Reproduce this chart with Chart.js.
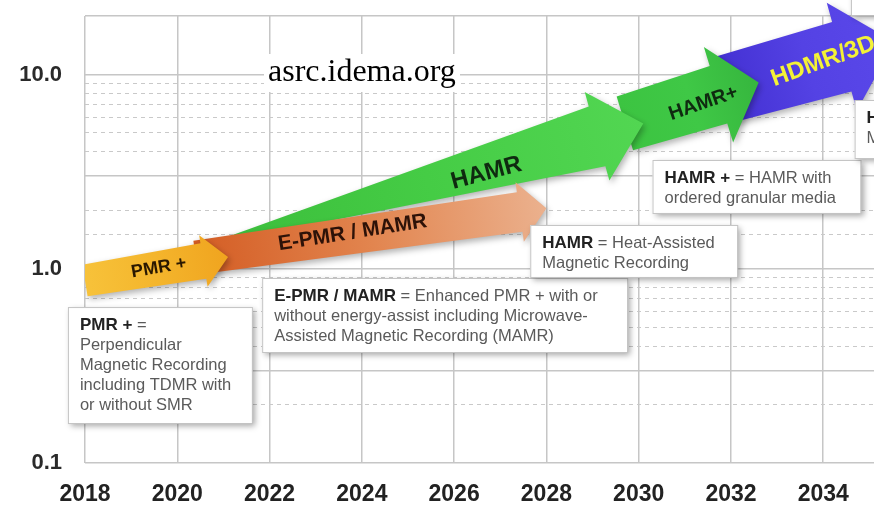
<!DOCTYPE html>
<html>
<head>
<meta charset="utf-8">
<script src="https://cdn.jsdelivr.net/npm/chart.js@4.4.1/dist/chart.umd.min.js"></script>
<style>
  html, body { margin: 0; padding: 0; background: #fff; }
</style>
</head>
<body>
<canvas id="roadmap" width="874" height="510"></canvas>
<script>
// ASRC areal density roadmap (Tb/in2), log scale
const yearTicks = [2018, 2020, 2022, 2024, 2026, 2028, 2030, 2032, 2034];
const densityTicks = [0.1, 1, 10];
const densityLabels = ['0.1', '1.0', '10.0'];

// technology arrows, back to front
const techNames = ['HDMR/3D', 'HAMR+', 'HAMR', 'E-PMR / MAMR', 'PMR +'];
const startYear = [2031.8, 2029.7, 2020.8, 2020.4, 2018.0];
const startDensity = [8.3, 5.6, 1.36, 1.14, 0.87];
const endYear = [2035.55, 2032.6, 2030.1, 2028.0, 2021.1];
const endDensity = [14.7, 9.1, 5.6, 2.05, 1.15];

// look of each arrow (half widths / head length in px)
const arrowStyles = [
  { tail: 34, body: 36, flare: 56, head: 55, colors: ['#4330d2', '#5442e4', '#5a48ea'],
    text: '#f4f236', font: 24, rot: -20, at: [2034.0, 11.7] },
  { tail: 28, body: 30, flare: 50, head: 42, colors: ['#3cc441', '#3fc846', '#36b63e'],
    text: '#0f2a10', font: 20, rot: -19, at: [2031.4, 7.1] },
  { tail: 1, body: 31, flare: 46, head: 48, colors: ['#3bbd3b', '#45cc45', '#52d652'],
    text: '#0f2a10', font: 24, rot: -15, at: [2026.7, 3.1] },
  { tail: 17, body: 20, flare: 30, head: 27, colors: ['#d45d24', '#e2854f', '#ebb18e'],
    text: '#2d1208', font: 21, rot: -9, at: [2023.8, 1.53] },
  { tail: 16, body: 18, flare: 26, head: 25, colors: ['#f7c23a', '#f4b52c', '#f0a41f'],
    text: '#2a1800', font: 18, rot: -10, at: [2019.6, 1.01] }
];

// definition boxes (top-left anchored in data units)
const notes = [
  { at: [2017.63, 0.635], w: 184, h: 116,
    lines: [['PMR +', ' ='], 'Perpendicular', 'Magnetic Recording', 'including TDMR with', 'or without SMR'] },
  { at: [2021.84, 0.896], w: 365, h: 74,
    lines: [['E-PMR / MAMR', ' = Enhanced PMR + with or'], 'without energy-assist including Microwave-', 'Assisted Magnetic Recording (MAMR)'] },
  { at: [2027.65, 1.68], w: 207, h: 52,
    lines: [['HAMR', ' = Heat-Assisted'], 'Magnetic Recording'] },
  { at: [2030.3, 3.63], w: 208, h: 53,
    lines: [['HAMR +', ' = HAMR with'], 'ordered granular media'] },
  { at: [2034.68, 7.39], w: 100, h: 58,
    lines: [['HDMR', ' = Heated-Dot'], 'Magnetic Recording'] },
  { at: [2034.6, 34.4], w: 100, h: 45, lines: [] }
];

const solidLines = [0.1, 0.3, 1, 3, 10, 20];
const isSolid = v => solidLines.some(s => Math.abs(s - v) < 1e-6);
const gridColor = v => (v > 10.001 && v < 19.999) ? 'rgba(0,0,0,0)' : (isSolid(v) ? '#c6c6c6' : '#c9c9c9');

function drawArrow(ctx, T, P, st) {
  const dx = P.x - T.x, dy = P.y - T.y;
  const len = Math.hypot(dx, dy);
  const ux = dx / len, uy = dy / len;
  const nx = -uy, ny = ux;
  const bx = P.x - ux * st.head, by = P.y - uy * st.head;
  const pts = [
    [T.x + nx * st.tail, T.y + ny * st.tail],
    [bx + nx * st.body, by + ny * st.body],
    [bx + nx * st.flare, by + ny * st.flare],
    [P.x, P.y],
    [bx - nx * st.flare, by - ny * st.flare],
    [bx - nx * st.body, by - ny * st.body],
    [T.x - nx * st.tail, T.y - ny * st.tail]
  ];
  const grad = ctx.createLinearGradient(T.x, T.y, P.x, P.y);
  st.colors.forEach((c, i) => grad.addColorStop(i / (st.colors.length - 1), c));
  ctx.save();
  ctx.shadowColor = 'rgba(0,0,0,0.3)';
  ctx.shadowBlur = 6;
  ctx.shadowOffsetX = 2;
  ctx.shadowOffsetY = 3;
  ctx.beginPath();
  pts.forEach((p, i) => i ? ctx.lineTo(p[0], p[1]) : ctx.moveTo(p[0], p[1]));
  ctx.closePath();
  ctx.fillStyle = grad;
  ctx.fill();
  ctx.restore();
}

const roadmapPlugin = {
  id: 'roadmap',
  afterDraw(chart) {
    const { ctx, chartArea, scales } = chart;
    const xs = scales.x, ys = scales.y;

    // arrows
    ctx.save();
    ctx.beginPath();
    ctx.rect(chartArea.left, 0, chart.width - chartArea.left, chart.height);
    ctx.clip();
    techNames.forEach((name, i) => {
      const pts = chart.getDatasetMeta(i).data;
      drawArrow(ctx, pts[0], pts[1], arrowStyles[i]);
    });
    techNames.forEach((name, i) => {
      const st = arrowStyles[i];
      ctx.save();
      ctx.translate(xs.getPixelForValue(st.at[0]), ys.getPixelForValue(st.at[1]));
      ctx.rotate(st.rot * Math.PI / 180);
      ctx.font = 'bold ' + st.font + "px 'Liberation Sans', Arial, sans-serif";
      ctx.fillStyle = st.text;
      ctx.textAlign = 'center';
      ctx.textBaseline = 'middle';
      ctx.fillText(name, 0, 0);
      ctx.restore();
    });
    ctx.restore();

    // definition boxes
    notes.forEach(n => {
      const x = xs.getPixelForValue(n.at[0]), y = ys.getPixelForValue(n.at[1]);
      ctx.save();
      ctx.shadowColor = 'rgba(0,0,0,0.35)';
      ctx.shadowBlur = 6;
      ctx.shadowOffsetX = 3;
      ctx.shadowOffsetY = 3;
      ctx.fillStyle = '#fff';
      ctx.fillRect(x, y, n.w, n.h);
      ctx.restore();
      ctx.strokeStyle = '#c4c4c4';
      ctx.lineWidth = 1;
      ctx.strokeRect(x + 0.5, y + 0.5, n.w, n.h);
      ctx.textBaseline = 'middle';
      ctx.textAlign = 'left';
      n.lines.forEach((ln, k) => {
        const ty = y + 18 + k * 20;
        let tx = x + 12;
        if (Array.isArray(ln)) {
          ctx.font = "bold 17px 'Liberation Sans', Arial, sans-serif";
          ctx.fillStyle = '#222';
          ctx.fillText(ln[0], tx, ty);
          tx += ctx.measureText(ln[0]).width;
          ln = ln[1];
        }
        ctx.font = "16.5px 'Liberation Sans', Arial, sans-serif";
        ctx.fillStyle = '#5a5a5a';
        ctx.fillText(ln, tx, ty);
      });
    });

    // source watermark
    ctx.fillStyle = '#fff';
    ctx.fillRect(264, 54, 196, 38);
    ctx.fillStyle = '#000';
    ctx.font = "32px 'Liberation Serif', 'Times New Roman', serif";
    ctx.textAlign = 'left';
    ctx.textBaseline = 'alphabetic';
    ctx.fillText('asrc.idema.org', 268, 81);
  }
};

const datasets = techNames.map((name, i) => ({
  label: name,
  data: [{ x: startYear[i], y: startDensity[i] }, { x: endYear[i], y: endDensity[i] }],
  showLine: false,
  pointRadius: 0,
  clip: false
}));

new Chart(document.getElementById('roadmap'), {
  type: 'scatter',
  data: { datasets },
  plugins: [roadmapPlugin],
  options: {
    responsive: false,
    animation: false,
    layout: { padding: { top: 16, left: 0, right: 0, bottom: 0 } },
    plugins: { legend: { display: false }, tooltip: { enabled: false } },
    scales: {
      x: {
        type: 'linear',
        min: 2018,
        max: 2035.1,
        afterFit: s => { s.height = 47; s.paddingLeft = 0; s.paddingRight = 0; },
        afterBuildTicks: s => { s.ticks = yearTicks.map(v => ({ value: v })); },
        grid: { color: '#c6c6c6', lineWidth: 1.5, drawTicks: false },
        border: { display: false },
        ticks: {
          autoSkip: false,
          maxRotation: 0,
          padding: 18,
          color: '#222',
          font: { family: "'Liberation Sans', Arial, sans-serif", size: 23, weight: 'bold' },
          callback: v => String(v)
        }
      },
      y: {
        type: 'logarithmic',
        min: 0.1,
        max: 20,
        afterFit: s => { s.width = 85; s.paddingTop = 0; s.paddingBottom = 0; },
        grid: {
          drawTicks: false,
          color: c => gridColor(c.tick ? c.tick.value : 0.1),
          lineWidth: c => isSolid(c.tick ? c.tick.value : 0) ? 1.5 : 1
        },
        border: {
          display: false,
          dash: c => (c.tick && !isSolid(c.tick.value)) ? [4, 4] : []
        },
        ticks: {
          autoSkip: false,
          padding: 23,
          color: '#2a2a2a',
          font: { family: "'Liberation Sans', Arial, sans-serif", size: 22, weight: 'bold' },
          callback: v => {
            const k = densityTicks.findIndex(t => Math.abs(t - v) < 1e-9);
            return k >= 0 ? densityLabels[k] : '';
          }
        }
      }
    }
  }
});
</script>
</body>
</html>
